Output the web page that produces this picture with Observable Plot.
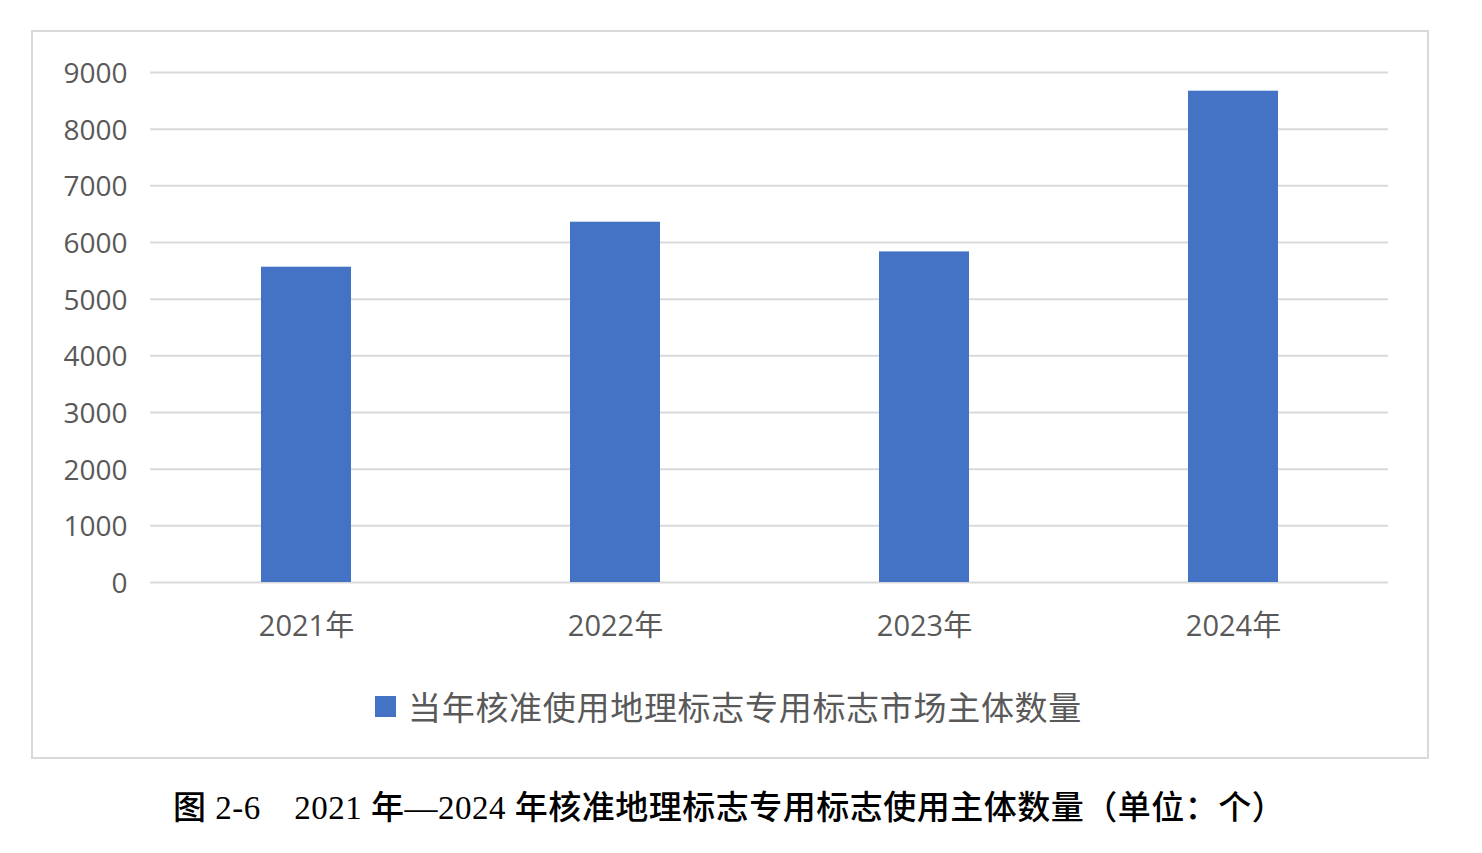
<!DOCTYPE html>
<html>
<head>
<meta charset="utf-8">
<script src="https://cdn.jsdelivr.net/npm/d3@7"></script>
<script src="https://cdn.jsdelivr.net/npm/@observablehq/plot@0.6"></script>
<style>
  html, body { margin: 0; padding: 0; background: #fff; }
  body { width: 1482px; height: 853px; position: relative; overflow: hidden; }
  #frame { position: absolute; left: 31px; top: 30px; width: 1398px; height: 729px; border: 2px solid #d9d9d9; box-sizing: border-box; }
  #chart { position: absolute; left: 0; top: 0; }
  #legend { position: absolute; left: 375px; top: 684px; height: 44px; display: flex; align-items: center; font-family: "Noto Sans CJK SC", sans-serif; font-size: 33px; letter-spacing: 0.7px; color: #595959; white-space: nowrap; }
  #legend .sw { width: 21px; height: 21px; background: #4472c4; margin-right: 12px; }
  #caption { position: absolute; left: 173px; top: 781px; font-family: "Liberation Serif", "Noto Sans CJK SC", serif; font-size: 33px; letter-spacing: 0.5px; color: #000; white-space: nowrap; font-weight: 500; }
</style>
</head>
<body>
<div id="frame"></div>
<div id="chart"></div>
<div id="legend"><span class="sw"></span><span id="legendText"></span></div>
<div id="caption"></div>
<script>
const years = ["2021年", "2022年", "2023年", "2024年"];
const values = [5564, 6358, 5834, 8670];
const yTicks = [0, 1000, 2000, 3000, 4000, 5000, 6000, 7000, 8000, 9000];
const seriesName = "当年核准使用地理标志专用标志市场主体数量";
const captionText = "图 2-6\u30002021 年—2024 年核准地理标志专用标志使用主体数量（单位：个）";

const data = years.map((y, i) => ({year: y, value: values[i]}));

const chart = Plot.plot({
  width: 1482,
  height: 660,
  marginLeft: 150,
  marginRight: 94,
  marginTop: 72,
  marginBottom: 78,
  style: {fontFamily: "'Open Sans', 'Noto Sans CJK SC', sans-serif", fontSize: "28px", color: "#595959", background: "transparent"},
  x: {domain: years, paddingInner: 0.71, paddingOuter: 0.355, align: 0.5, label: null},
  y: {domain: [0, 9000], label: null},
  marks: [
    Plot.gridY(yTicks, {stroke: "#d9d9d9", strokeOpacity: 1, strokeWidth: 2}),
    Plot.barY(data, {x: "year", y: "value", fill: "#4472c4"}),
    Plot.axisY(yTicks, {tickSize: 0, tickPadding: 23, fontSize: 28, dy: 1.5, tickFormat: d => String(d), label: null}),
    Plot.axisX({tickSize: 0, tickPadding: 33, fontSize: 29, label: null})
  ]
});
document.getElementById("chart").appendChild(chart);
document.getElementById("legendText").textContent = seriesName;
document.getElementById("caption").textContent = captionText;
</script>
</body>
</html>
